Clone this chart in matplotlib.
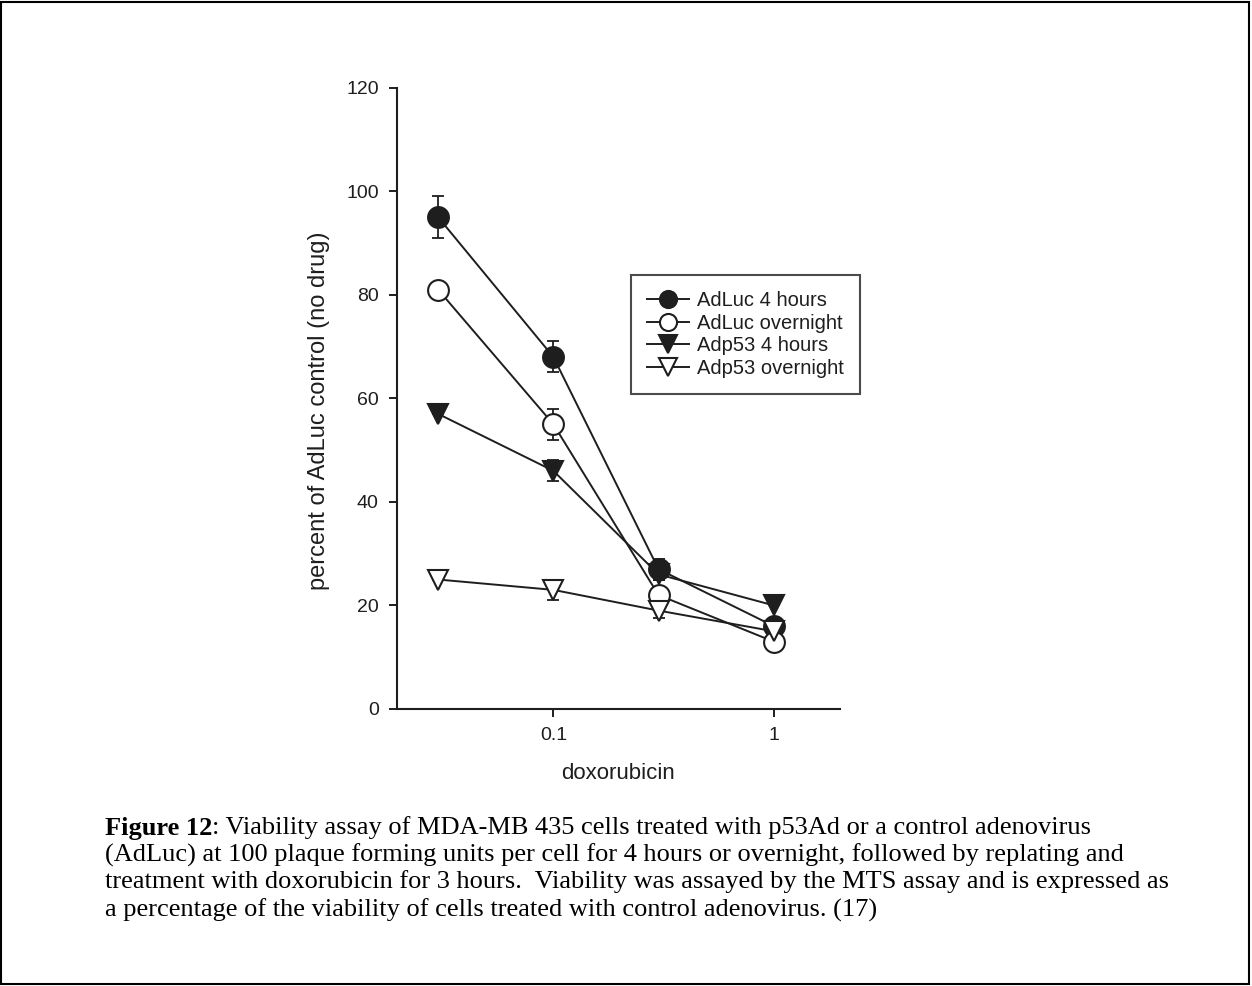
import numpy as np
import matplotlib
matplotlib.use("Agg")
import matplotlib.pyplot as plt
from matplotlib.patches import Rectangle

# data
dox = [0.03, 0.1, 0.3, 1]
adluc_4h = [95, 68, 27, 16]
adluc_4h_err = [4, 3, 2, 1]
adluc_on = [81, 55, 22, 13]
adluc_on_err = [0, 3, 1, 1.5]
adp53_4h = [57, 46, 26, 20]
adp53_4h_err = [0, 2, 1, 0]
adp53_on = [25, 23, 19, 15]
adp53_on_err = [0, 2, 1.5, 0]

labels = ["AdLuc 4 hours", "AdLuc overnight", "Adp53 4 hours", "Adp53 overnight"]
yticks = [0, 20, 40, 60, 80, 100, 120]

caption = [
    ": Viability assay of MDA-MB 435 cells treated with p53Ad or a control adenovirus",
    "(AdLuc) at 100 plaque forming units per cell for 4 hours or overnight, followed by replating and",
    "treatment with doxorubicin for 3 hours.  Viability was assayed by the MTS assay and is expressed as",
    "a percentage of the viability of cells treated with control adenovirus. (17)",
]

plt.rcParams['font.family'] = ['Liberation Sans', 'DejaVu Sans']

fig = plt.figure(figsize=(12.52, 9.86), dpi=100)
ax = fig.add_axes([0.317, 0.281, 0.354, 0.630])

ink = '#1e1e1e'
series = [
    (adluc_4h, adluc_4h_err, 'o', ink),
    (adluc_on, adluc_on_err, 'o', 'white'),
    (adp53_4h, adp53_4h_err, 'v', ink),
    (adp53_on, adp53_on_err, 'v', 'white'),
]
handles = []
for (vals, err, mk, fc), lab in zip(series, labels):
    ax.errorbar(dox, vals, yerr=err, fmt='none', ecolor=ink,
                elinewidth=1.3, capsize=4.5, capthick=1.3, zorder=2)
    h, = ax.plot(dox, vals, color=ink, lw=1.4, marker=mk, ms=15,
                 mfc=fc, mec=ink, mew=1.5, label=lab, zorder=3)
    handles.append(h)

ax.set_xscale('log')
ax.set_xlim(0.0195, 2.0)
ax.set_ylim(0, 120)
ax.set_yticks(yticks)
ax.set_xticks([0.1, 1])
ax.set_xticklabels(['0.1', '1'])
ax.xaxis.set_minor_locator(matplotlib.ticker.NullLocator())
ax.spines['top'].set_visible(False)
ax.spines['right'].set_visible(False)
ax.spines['left'].set_linewidth(1.5)
ax.spines['bottom'].set_linewidth(1.5)
ax.spines['left'].set_color(ink)
ax.spines['bottom'].set_color(ink)
ax.tick_params(direction='out', length=6, width=1.4, labelsize=14, pad=7, colors=ink)
ax.set_xlabel('doxorubicin', fontsize=16, labelpad=14, color=ink)
ax.set_ylabel('percent of AdLuc control (no drug)', fontsize=17, color=ink)
ax.yaxis.set_label_coords(-0.15, 0.48)

leg = fig.legend(handles=handles, loc='upper left', bbox_to_anchor=(0.504, 0.721),
                 borderaxespad=0, fontsize=14.5, frameon=True, fancybox=False,
                 edgecolor=ink, handlelength=2.1, handletextpad=0.4, labelspacing=0.18,
                 borderpad=0.8, markerscale=0.82)
leg.get_frame().set_linewidth(1.5)
for txt in leg.get_texts():
    txt.set_color(ink)

# outer border
fig.add_artist(Rectangle((0.001, 0.002), 0.997, 0.996, transform=fig.transFigure,
                         fill=False, edgecolor='black', lw=1.5))

# caption
serif = ['Liberation Serif', 'DejaVu Serif']
x0 = 105 / 1252
ys = [828, 855, 882, 910]
t = fig.text(x0, 1 - ys[0] / 986, 'Figure 12', fontsize=19, fontweight='bold',
             family=serif, va='center')
fig.canvas.draw()
bb = t.get_window_extent()
x1 = bb.x1 / fig.bbox.width
fig.text(x1, 1 - ys[0] / 986, caption[0], fontsize=19, family=serif, va='center')
for line, y in zip(caption[1:], ys[1:]):
    fig.text(x0, 1 - y / 986, line, fontsize=19, family=serif, va='center')

fig.savefig('out.png', dpi=100)
